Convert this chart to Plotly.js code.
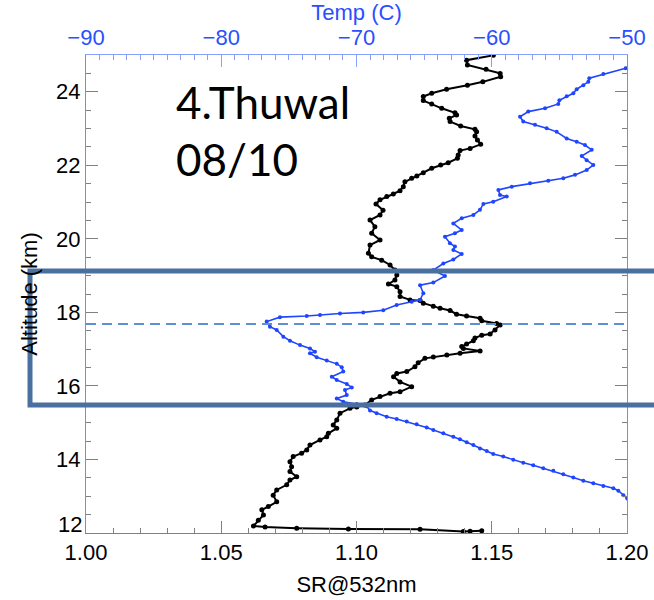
<!DOCTYPE html>
<html>
<head>
<meta charset="utf-8">
<script src="https://cdn.plot.ly/plotly-3.0.1.min.js"></script>
<style>
  html, body { margin: 0; padding: 0; background: #ffffff; }
  #chart { width: 654px; height: 600px; }
</style>
</head>
<body>
<div id="chart"></div>
<script>
// Scattering ratio profile (SR at 532 nm) versus altitude
const srAltitude = [24.99,24.86,24.73,24.61,24.50,24.41,24.27,24.18,24.07,23.96,
  23.87,23.76,23.67,23.55,23.43,23.37,23.28,23.19,23.07,22.98,
  22.91,22.80,22.69,22.57,22.46,22.40,22.28,22.19,22.07,22.01,
  21.92,21.80,21.71,21.65,21.55,21.42,21.31,21.22,21.15,21.06,
  20.95,20.78,20.65,20.51,20.33,20.15,19.97,19.83,19.61,19.51,
  19.42,19.29,19.15,19.02,18.88,18.77,18.70,18.56,18.43,18.34,
  18.32,18.25,18.17,18.11,18.05,17.95,17.90,17.84,17.77,17.70,
  17.66,17.52,17.41,17.38,17.30,17.23,17.14,17.07,17.02,16.95,
  16.89,16.84,16.79,16.75,16.63,16.52,16.39,16.34,16.25,16.11,
  15.98,15.84,15.80,15.71,15.62,15.48,15.43,15.39,15.26,15.07,
  14.94,14.85,14.71,14.62,14.53,14.39,14.26,14.17,14.08,13.94,
  13.80,13.67,13.53,13.44,13.31,13.17,13.03,12.85,12.72,12.63,
  12.49,12.35,12.19,12.16,12.13,12.11,12.10,12.04,12.05,12.06];
const srValues = [1.1506,1.1407,1.1410,1.1479,1.1531,1.1533,1.1467,1.1410,1.1333,1.1278,
  1.1247,1.1247,1.1278,1.1315,1.1364,1.1370,1.1343,1.1346,1.1385,1.1438,
  1.1444,1.1438,1.1447,1.1459,1.1420,1.1383,1.1376,1.1373,1.1339,1.1311,
  1.1278,1.1247,1.1223,1.1204,1.1179,1.1173,1.1161,1.1136,1.1112,1.1087,
  1.1072,1.1098,1.1087,1.1050,1.1068,1.1056,1.1087,1.1050,1.1044,1.1056,
  1.1093,1.1124,1.1142,1.1149,1.1142,1.1118,1.1149,1.1161,1.1161,1.1198,
  1.1235,1.1247,1.1284,1.1309,1.1346,1.1370,1.1407,1.1457,1.1463,1.1518,
  1.1531,1.1512,1.1494,1.1463,1.1438,1.1432,1.1407,1.1389,1.1395,1.1457,
  1.1383,1.1334,1.1284,1.1253,1.1228,1.1216,1.1186,1.1149,1.1137,1.1161,
  1.1204,1.1161,1.1124,1.1087,1.1056,1.1031,1.1001,1.0976,1.0939,1.0927,
  1.0914,1.0927,1.0896,1.0890,1.0865,1.0828,1.0816,1.0797,1.0766,1.0754,
  1.0760,1.0754,1.0779,1.0754,1.0742,1.0705,1.0692,1.0705,1.0674,1.0650,
  1.0656,1.0637,1.0619,1.0662,1.0779,1.0970,1.1235,1.1395,1.1420,1.1463];

// Temperature profile (deg C) versus altitude
const tempAltitude = [24.64,24.48,24.37,24.27,24.18,24.07,23.96,23.88,23.77,23.67,
  23.55,23.46,23.32,23.19,23.10,23.01,22.91,22.73,22.64,22.55,
  22.42,22.25,22.14,22.01,21.87,21.74,21.65,21.58,21.51,21.42,
  21.33,21.19,21.15,21.01,20.95,20.79,20.65,20.56,20.42,20.24,
  20.15,20.06,19.88,19.79,19.70,19.59,19.44,19.33,19.15,18.99,
  18.81,18.74,18.52,18.34,18.29,18.20,18.06,18.00,17.97,17.93,
  17.90,17.87,17.75,17.61,17.52,17.34,17.23,17.11,17.02,16.93,
  16.89,16.78,16.69,16.60,16.51,16.39,16.25,16.16,16.05,15.96,
  15.89,15.75,15.66,15.57,15.51,15.45,15.33,15.26,15.16,15.10,
  15.03,14.96,14.87,14.80,14.71,14.62,14.55,14.47,14.39,14.30,
  14.23,14.15,14.08,13.99,13.91,13.84,13.76,13.69,13.60,13.51,
  13.42,13.35,13.28,13.22,13.15,13.03,12.94];
const tempValues = [-50.10,-51.75,-52.79,-52.86,-53.23,-53.72,-53.97,-54.46,-55.00,-55.08,
  -56.06,-57.30,-57.91,-57.67,-56.80,-55.94,-55.20,-54.46,-53.72,-53.11,
  -52.61,-53.35,-52.98,-52.49,-52.98,-53.84,-54.71,-55.82,-57.17,-58.52,
  -59.51,-59.39,-58.89,-59.89,-60.62,-60.87,-61.36,-62.22,-62.84,-62.22,
  -62.72,-63.46,-63.09,-62.72,-62.84,-62.22,-62.84,-63.58,-64.32,-63.46,
  -64.32,-65.30,-65.06,-65.30,-65.92,-67.03,-68.02,-69.50,-71.22,-72.70,
  -73.68,-75.66,-76.64,-76.40,-75.90,-75.41,-74.92,-74.18,-73.44,-73.07,
  -73.44,-72.94,-72.20,-71.46,-71.09,-70.98,-71.83,-71.46,-70.72,-70.35,
  -70.85,-70.72,-71.46,-70.98,-69.99,-69.25,-69.00,-68.51,-67.77,-67.03,
  -66.29,-65.55,-64.81,-64.32,-63.58,-62.84,-62.35,-61.85,-61.36,-60.87,
  -60.37,-59.89,-59.15,-58.41,-57.67,-56.93,-56.19,-55.45,-54.71,-53.97,
  -53.23,-52.49,-51.75,-51.01,-50.64,-50.27,-49.98];

// Axis ticks (the lowest altitude label is set a little above its tick)
const srTicks = [1.00, 1.05, 1.10, 1.15, 1.20];
const srTickText = ['1.00', '1.05', '1.10', '1.15', '1.20'];
const tempTicks = [-90, -80, -70, -60, -50];
const altTicks = [12, 14, 16, 18, 20, 22, 24];
const altTickText = ['', '14', '16', '18', '20', '22', '24'];
const altBottomLabel = '12';

// Layer boundaries and label
const layerBottom = 15.48;
const layerTop = 19.125;
const peakAltitude = 17.684;
const siteLabel = '4.Thuwal';
const dateLabel = '08/10';

const tickFont = { family: 'Liberation Sans, Arial, sans-serif', size: 22, color: '#000000' };
const blueText = '#2a4fff';
const labelFont = { family: 'Lato, Open Sans, sans-serif', size: 44, color: '#000000' };

const traces = [
  {
    type: 'scatter', mode: 'lines+markers',
    x: srValues, y: srAltitude, xaxis: 'x', yaxis: 'y',
    line: { color: '#000000', width: 2 },
    marker: { color: '#000000', size: 5 },
    hoverinfo: 'skip'
  },
  {
    type: 'scatter', mode: 'lines+markers',
    x: tempValues, y: tempAltitude, xaxis: 'x2', yaxis: 'y',
    line: { color: '#1f45ff', width: 1.6 },
    marker: { color: '#1f45ff', size: 4 },
    hoverinfo: 'skip'
  }
];

const layout = {
  width: 654, height: 600,
  margin: { l: 86, r: 27, t: 55, b: 67 },
  paper_bgcolor: '#ffffff', plot_bgcolor: '#ffffff',
  showlegend: false,
  xaxis: {
    range: [1.0, 1.2], tickvals: srTicks, ticktext: srTickText,
    ticks: 'inside', ticklen: 12, tickcolor: '#808080', tickwidth: 1,
    showline: true, linecolor: '#808080', linewidth: 1,
    showgrid: false, zeroline: false,
    minor: { dtick: 0.01, tick0: 1.0, ticks: 'inside', ticklen: 5, tickcolor: '#808080', showgrid: false },
    tickfont: tickFont,
    title: { text: 'SR@532nm', font: tickFont, standoff: 12 }
  },
  xaxis2: {
    overlaying: 'x', side: 'top', anchor: 'y',
    range: [-90, -50], tickvals: tempTicks,
    ticks: 'inside', ticklen: 12, tickcolor: '#8aa0ff', tickwidth: 1,
    showline: true, linecolor: '#8aa0ff', linewidth: 1,
    showgrid: false, zeroline: false,
    minor: { dtick: 1, tick0: -90, ticks: 'inside', ticklen: 5, tickcolor: '#8aa0ff', showgrid: false },
    tickfont: Object.assign({}, tickFont, { color: blueText }),
    title: { text: 'Temp (C)', font: Object.assign({}, tickFont, { color: blueText }), standoff: 3 }
  },
  yaxis: {
    range: [12, 25], tickvals: altTicks, ticktext: altTickText,
    ticks: 'inside', ticklen: 12, tickcolor: '#808080', tickwidth: 1,
    showline: true, linecolor: '#909090', linewidth: 1, mirror: 'ticks',
    showgrid: false, zeroline: false,
    minor: { dtick: 0.5, tick0: 12, ticks: 'inside', ticklen: 5, tickcolor: '#808080', showgrid: false },
    tickfont: tickFont,
    title: { text: 'Altitude (km)', font: tickFont, standoff: 12 }
  },
  shapes: [
    {
      type: 'rect', xref: 'paper', yref: 'y',
      x0: -0.1035, x1: 1.3, y0: layerBottom, y1: layerTop,
      line: { color: '#4a70a0', width: 5 }, fillcolor: 'rgba(0,0,0,0)', layer: 'above'
    },
    {
      type: 'line', xref: 'paper', yref: 'y',
      x0: 0, x1: 1, y0: peakAltitude, y1: peakAltitude,
      line: { color: '#5f8fd0', width: 2, dash: '10px,6px' }, layer: 'above'
    }
  ],
  annotations: [
    {
      text: altBottomLabel, xref: 'paper', yref: 'y', x: 0, y: altTicks[0],
      xanchor: 'right', yanchor: 'middle', xshift: -2, yshift: 9, showarrow: false,
      font: tickFont
    },
    {
      text: siteLabel, xref: 'paper', yref: 'paper', x: 0.163, y: 0.9024,
      xanchor: 'left', yanchor: 'middle', showarrow: false, font: labelFont
    },
    {
      text: dateLabel, xref: 'paper', yref: 'paper', x: 0.163, y: 0.7824,
      xanchor: 'left', yanchor: 'middle', showarrow: false, font: labelFont
    }
  ]
};

Plotly.newPlot('chart', traces, layout, { displayModeBar: false, staticPlot: true });
</script>
</body>
</html>
